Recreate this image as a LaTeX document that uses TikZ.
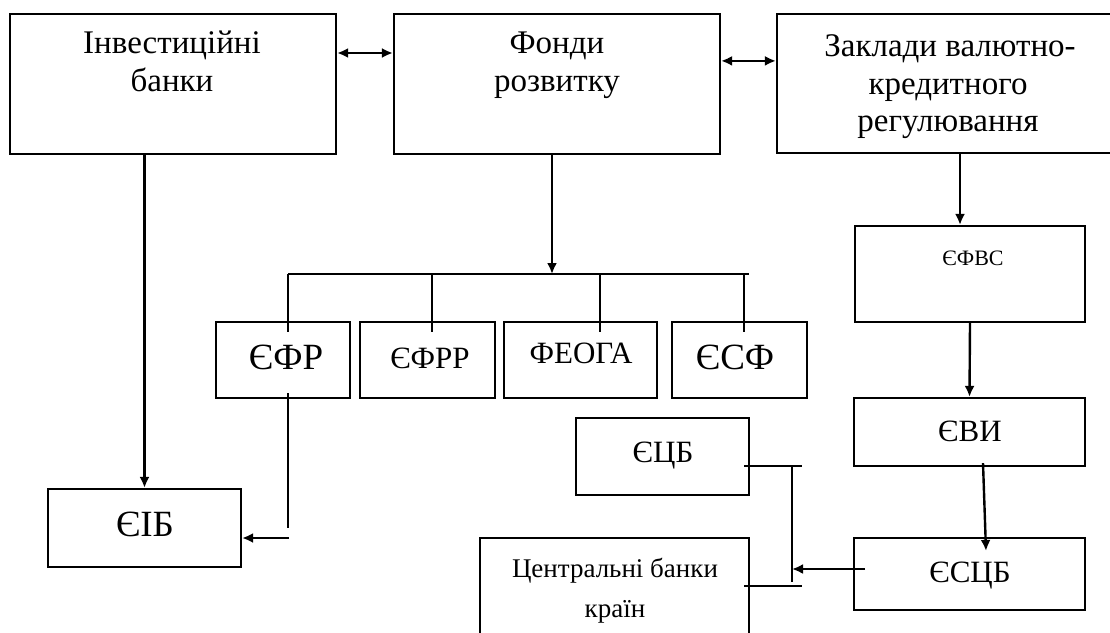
\documentclass[tikz,border=0pt]{standalone}
\usepackage{fontspec}
\setmainfont{Liberation Serif}
\usetikzlibrary{arrows.meta,calc}
\begin{document}
\begin{tikzpicture}[x=1pt,y=-1pt,
  box/.style={draw, line width=2.2pt, inner sep=0pt, rectangle},
  ln/.style={line width=2.4pt},
  thin/.style={line width=2pt},
  arr/.style={ln, -{Latex[length=11pt,width=10pt]}},
  darr/.style={ln, {Latex[length=11pt,width=10pt]}-{Latex[length=11pt,width=10pt]}},
  lbl/.style={inner sep=0pt, anchor=base},
  fbig/.style={lbl, font=\fontsize{33}{38}\selectfont},
  fcode/.style={lbl, font=\fontsize{37}{40}\selectfont},
  fmid/.style={lbl, font=\fontsize{31}{36}\selectfont},
  fsmall/.style={lbl, font=\fontsize{22}{25}\selectfont},
  fcb/.style={lbl, font=\fontsize{27}{30}\selectfont}
]
\clip (0,0) rectangle (1110,632);
\useasboundingbox (0,0) rectangle (1110,632);

% boxes
\node[box, minimum width=326pt, minimum height=140pt] (ib) at (173,84) {};
\node[box, minimum width=326pt, minimum height=140pt] (fr) at (557,84) {};
\node[box, minimum width=348pt, minimum height=139pt] (zk) at (951,83.5) {};
\node[box, minimum width=230pt, minimum height=96pt] (efvs) at (970,274) {};
\node[box, minimum width=134pt, minimum height=76pt] (efr) at (283,360) {};
\node[box, minimum width=135pt, minimum height=76pt] (efrr) at (427.5,360) {};
\node[box, minimum width=153pt, minimum height=76pt] (feoga) at (580.5,360) {};
\node[box, minimum width=135pt, minimum height=76pt] (esf) at (739.5,360) {};
\node[box, minimum width=193pt, minimum height=78pt] (eib) at (144.5,528) {};
\node[box, minimum width=173pt, minimum height=77pt] (ecb) at (662.5,456.5) {};
\node[box, minimum width=269pt, minimum height=112pt] (cb) at (614.5,594) {};
\node[box, minimum width=231pt, minimum height=68pt] (evi) at (969.5,432) {};
\node[box, minimum width=231pt, minimum height=72pt] (escb) at (969.5,574) {};

% labels
\node[fbig] (ibA) at (172,53) {Інвестиційні};
\node[fbig] (ibB) at (172,91) {банки};
\node[fbig] (frA) at (557,53) {Фонди};
\node[fbig] (frB) at (557,91) {розвитку};
\node[fbig] (zkA) at (950,56) {Заклади валютно-};
\node[fbig] (zkB) at (948,94) {кредитного};
\node[fbig] (zkC) at (948,131) {регулювання};
\node[fsmall] (efvsT) at (973,265) {ЄФВС};
\node[fcode] (efrT) at (286,369) {ЄФР};
\node[fmid] (efrrT) at (430,368) {ЄФРР};
\node[fmid] (feogaT) at (581,363) {ФЕОГА};
\node[fcode] (esfT) at (735,369) {ЄСФ};
\node[fcode] (eibT) at (145,536) {ЄІБ};
\node[fmid] (ecbT) at (663,462) {ЄЦБ};
\node[fcb] (cbA) at (615,577) {Центральні банки};
\node[fcb] (cbB) at (615,617) {країн};
\node[fmid] (eviT) at (970,441) {ЄВИ};
\node[fmid] (escbT) at (970,582) {ЄСЦБ};

% top double arrows
\draw[darr] (ib.east |- frA.base) -- (fr.west |- frA.base);
\draw[darr] ($(fr.north east)+(0,48)$) -- ($(zk.north west)+(0,48)$);

% Investment banks -> EIB
\draw[arr] (ib.south -| eib.north) -- (eib.north);

% Development funds -> bus
\coordinate (busmid) at (552,274);
\coordinate (busL) at (288,274);
\coordinate (busR) at (749,274);
\draw[arr] (fr.south -| busmid) -- (busmid);
\draw[thin] (busL) -- (busR);
\coordinate (v1) at (288,332);
\coordinate (v2) at (432,332);
\coordinate (v3) at (600,332);
\coordinate (v4) at (744,332);
\draw[thin] (v1 |- busL) -- (v1);
\draw[thin] (v2 |- busL) -- (v2);
\draw[thin] (v3 |- busL) -- (v3);
\draw[thin] (v4 |- busL) -- (v4);

% EFR -> EIB
\coordinate (d1) at (288,393);
\coordinate (d2) at (288,528);
\coordinate (d3) at (289,538);
\draw[thin] (d1) -- (d2);
\draw[arr] (d3) -- (eib.east |- d3);

% right column
\coordinate (zkdown) at ($(efvs.north)+(-10,0)$);
\draw[arr] (zk.south -| zkdown) -- (zkdown);
\draw[arr] (efvs.south) -- (evi.north);
\draw[arr] ($(evi.south)+(13.5,-4)$) -- ($(escb.north)+(16.5,14)$);

% ESCB -> bracket
\coordinate (brT) at (792,466);
\coordinate (brB) at (792,582);
\coordinate (armTL) at (744,466);
\coordinate (armTR) at (802,466);
\coordinate (armBL) at (744,586);
\coordinate (armBR) at (802,586);
\coordinate (esIn) at (865,569);
\draw[thin] (brT) -- (brB);
\draw[thin] (armTL) -- (armTR);
\draw[thin] (armBL) -- (armBR);
\draw[arr] (esIn) -- (brT |- esIn);
\end{tikzpicture}
\end{document}
